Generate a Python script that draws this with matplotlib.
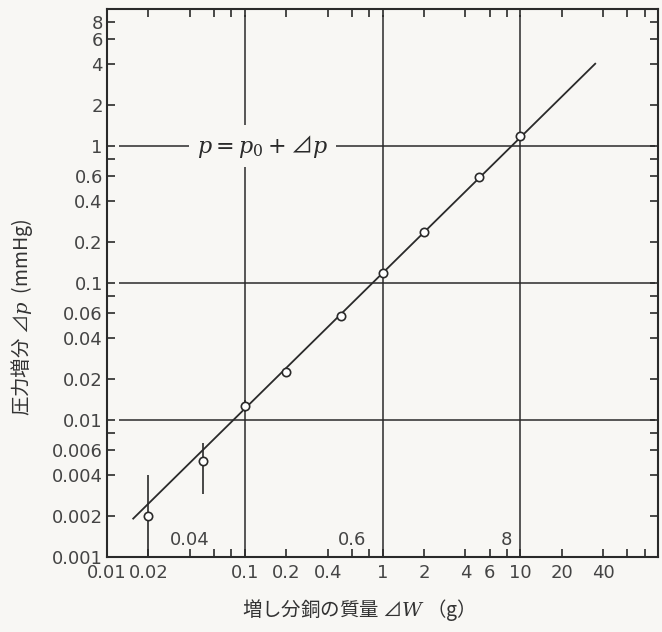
import numpy as np
import matplotlib
matplotlib.use('Agg')
import matplotlib.pyplot as plt
from matplotlib.ticker import FixedLocator, FixedFormatter

plt.rcParams['font.family'] = ['DejaVu Sans', 'Noto Sans CJK JP']
plt.rcParams['mathtext.fontset'] = 'dejavuserif'

# 測定データ (読み取り値)
mass = [0.02, 0.05, 0.1, 0.2, 0.5, 1, 2, 5, 10]
dp = [0.002, 0.005, 0.0127, 0.0225, 0.057, 0.118, 0.235, 0.59, 1.18]

# 誤差棒 (最初の3点)
err_x = [0.02, 0.05, 0.1]
err_y = [0.002, 0.005, 0.0127]
err_lo = [0.001, 0.0029, 0.0114]
err_hi = [0.004, 0.0068, 0.0140]

# 直線 dp = a * W^b
fit_a = 0.118
fit_b = 0.99
fit_range = [0.0155, 35]

x_ticks = [0.01, 0.02, 0.04, 0.06, 0.08, 0.1, 0.2, 0.4, 0.6, 0.8,
           1, 2, 4, 6, 8, 10, 20, 40, 60, 80]
x_labels = ['0.01', '0.02', '', '', '', '0.1', '0.2', '0.4', '', '',
            '1', '2', '4', '6', '', '10', '20', '40', '', '']
x_inner = [(0.04, '0.04'), (0.6, '0.6'), (8, '8')]

y_ticks = [0.001, 0.002, 0.004, 0.006, 0.008, 0.01, 0.02, 0.04, 0.06, 0.08,
           0.1, 0.2, 0.4, 0.6, 0.8, 1, 2, 4, 6, 8]
y_labels = ['0.001', '0.002', '0.004', '0.006', '', '0.01', '0.02', '0.04', '0.06', '',
            '0.1', '0.2', '0.4', '0.6', '', '1', '2', '4', '6', '8']

h_lines = [0.01, 0.1, 1]
v_lines = [0.1, 1, 10]

bg = '#f8f7f4'
ink = '#2a2a2a'
cjk = ['Noto Sans CJK JP', 'DejaVu Sans']

fig = plt.figure(figsize=(6.62, 6.32), dpi=100, facecolor=bg)
ax = fig.add_axes([107 / 662, 1 - 557 / 632, 551 / 662, 548 / 632], facecolor=bg)
ax.set_xscale('log')
ax.set_yscale('log')
ax.set_xlim(0.01, 100)
ax.set_ylim(0.001, 10)

ax.hlines(h_lines, 0.0122, 95, color=ink, lw=1.1, zorder=1)
ax.vlines(v_lines, 0.001, 9, color=ink, lw=1.1, zorder=1)

xf = np.logspace(np.log10(fit_range[0]), np.log10(fit_range[1]), 50)
ax.plot(xf, fit_a * xf ** fit_b, color=ink, lw=1.3, zorder=3)

lo = np.array(err_y) - np.array(err_lo)
hi = np.array(err_hi) - np.array(err_y)
ax.errorbar(err_x, err_y, yerr=[lo, hi], fmt='none', ecolor=ink, elinewidth=1.2, capsize=0, zorder=3)
ax.plot(mass, dp, 'o', ms=6, mfc='white', mec=ink, mew=1.2, zorder=4)

ax.text(0.135, 1, '$p = p_0 +$⊿$p$', fontsize=16, color=ink, family=cjk,
        ha='center', va='center', zorder=5,
        bbox=dict(boxstyle='square,pad=0.35', fc=bg, ec='none'))

for xv, s in x_inner:
    ax.text(xv, 0.00115, s, fontsize=13, color='#444', ha='center', va='bottom')

ax.xaxis.set_major_locator(FixedLocator(x_ticks))
ax.xaxis.set_major_formatter(FixedFormatter(x_labels))
ax.yaxis.set_major_locator(FixedLocator(y_ticks))
ax.yaxis.set_major_formatter(FixedFormatter(y_labels))
ax.minorticks_off()
ax.tick_params(which='major', direction='in', length=6, width=1.2, color=ink,
               top=True, right=True, labelsize=13, labelcolor='#444')
ax.tick_params(axis='x', pad=5)
ax.tick_params(axis='y', pad=3)
for sp in ax.spines.values():
    sp.set_linewidth(1.5)
    sp.set_color(ink)

fig.text(353 / 662, 1 - 610 / 632, '増し分銅の質量 ⊿$W$ （$\\mathregular{g}$）', fontsize=14,
         color='#333', ha='center', va='center', family=cjk)
fig.text(22 / 662, 1 - 317 / 632, '圧力増分 ⊿$p$  (mmHg)', fontsize=14,
         color='#333', ha='center', va='center', rotation=90, family=cjk)

fig.savefig('out.png', dpi=100, facecolor=bg)
